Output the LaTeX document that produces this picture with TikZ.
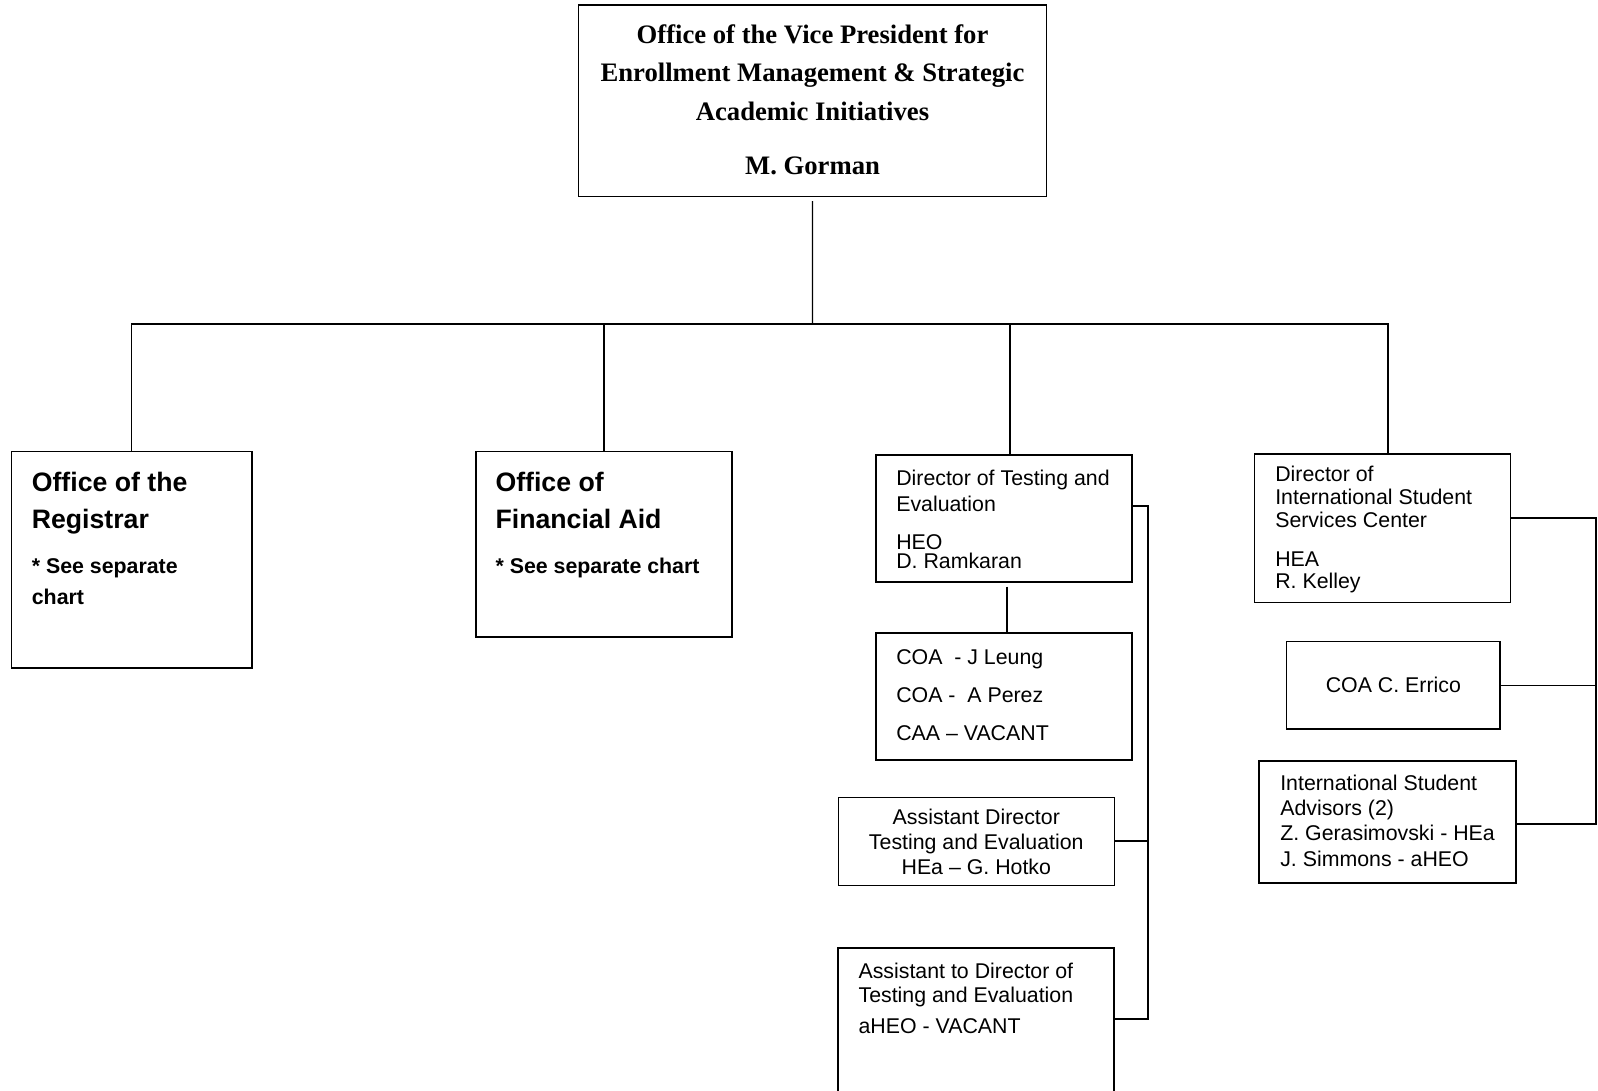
\documentclass[tikz,border=0pt]{standalone}
\usepackage{fontspec}
\setmainfont{Liberation Sans}
\newfontfamily\vpfont{Liberation Serif}
\usetikzlibrary{calc,fit}

\begin{document}
\begin{tikzpicture}[x=0.75pt,y=-0.75pt,
    box/.style={draw,inner sep=0pt,line width=0.8pt},
    heavybox/.style={draw,inner sep=0pt,line width=1.3pt},
    txt/.style={inner sep=0pt,anchor=base west,align=left,font=\fontsize{16}{18.75}\selectfont},
    ctxt/.style={txt,anchor=base,align=center},
    head/.style={inner sep=0pt,anchor=base west,align=left,font=\fontsize{20}{27.2}\selectfont\bfseries},
    note/.style={inner sep=0pt,anchor=base west,align=left,font=\fontsize{16}{23.25}\selectfont\bfseries},
    conn/.style={line width=1pt},
    heavyconn/.style={line width=1.4pt},
    thinconn/.style={line width=0.6pt}]
  \path[fill=white,use as bounding box] (0,0) rectangle (1598,1091);
  % boxes
  \node[box,fit={(578.3,5) (1046.7,196.7)}](vp){};
  \node[box,fit={(11.5,451.7) (252,668)}](reg){};
  \node[box,fit={(476,451.5) (732,637)}](fin){};
  \node[heavybox,fit={(875.7,455) (1132,581.7)}](dte){};
  \node[heavybox,fit={(875.7,632.7) (1132,760)}](coa){};
  \node[box,fit={(838.3,797.3) (1114.3,885.3)}](adte){};
  \node[heavybox,fit={(838.3,948.3) (1114.3,1110)}](atd){};
  \node[box,fit={(1254.3,454) (1510.7,602.7)}](disc){};
  \node[box,fit={(1286.7,641.3) (1500,729)}](err){};
  \node[heavybox,fit={(1259.3,760.7) (1516.3,882.7)}](isa){};
  % texts (base = last line)
  \node[inner sep=0pt,anchor=base,align=center,font=\fontsize{20}{28.7}\selectfont\vpfont\bfseries](vptxt)at(812.5,175)
    {Office of the Vice President for\\Enrollment Management \& Strategic\\Academic Initiatives\\[12.5pt]M. Gorman};
  \node[head](reghead)at(31.6,528){Office of the\\Registrar};
  \node[note](regnote)at(31.6,604){* See separate\\chart};
  \node[head](finhead)at(495.3,528){Office of\\Financial Aid};
  \node[note](finnote)at(495.3,573){* See separate chart};
  \node[txt,font=\fontsize{16}{19}\selectfont](dtetxt)at(896,568.3)
    {Director of Testing and\\Evaluation\\[9.7pt]HEO\\[-4.75pt]D. Ramkaran};
  \node[txt,font=\fontsize{16}{28.35}\selectfont](coatxt)at(896,740)
    {COA\ \ -{} J Leung\\COA -\ \ A Perez\\CAA -- VACANT};
  \node[ctxt](adtetxt)at(976.3,874.3){Assistant Director\\Testing and Evaluation\\HEa -- G. Hotko};
  \node[txt,font=\fontsize{16}{18.3}\selectfont](atdtxt)at(858.3,1033.3)
    {Assistant to Director of\\Testing and Evaluation\\[4.65pt]aHEO - VACANT};
  \node[txt,font=\fontsize{16}{17.25}\selectfont](disctxt)at(1275,588.3)
    {Director of\\International Student\\Services Center\\[12pt]HEA\\[-1pt]R. Kelley};
  \node[inner sep=0pt,font=\fontsize{16}{18.75}\selectfont](errtxt)at(err){COA C. Errico};
  \node[txt,font=\fontsize{16}{18.8}\selectfont](isatxt)at(1280,866)
    {International Student\\Advisors (2)\\Z. Gerasimovski - HEa\\J. Simmons - aHEO};
  % connectors
  \coordinate(bus)at(812.5,324);
  \coordinate(lb)at(1148,505.7);
  \coordinate(rb)at(1595.7,517.7);
  \draw[conn,shorten <=3pt](vp.south)--(bus);
  \draw[conn](reg.north)|-(bus)-|([xshift=4.1pt]disc.north);
  \draw[conn](fin.north)--(fin.north|-bus);
  \draw[conn]([xshift=4.6pt]dte.north)--([xshift=4.6pt]dte.north|-bus);
  \draw[conn,shorten <=3pt]([xshift=2.4pt]dte.south)--([xshift=2.4pt]coa.north);
  \draw[heavyconn](dte.east|-lb)--(lb)--(lb|-0,1019.3)--(atd.east|-0,1019.3);
  \draw[heavyconn](adte.east)--(adte.east-|lb);
  \draw[heavyconn](disc.east|-rb)--(rb)--(rb|-0,824.3)--(isa.east|-0,824.3);
  \draw[thinconn](err.east)--(err.east-|rb);
\end{tikzpicture}
\end{document}
